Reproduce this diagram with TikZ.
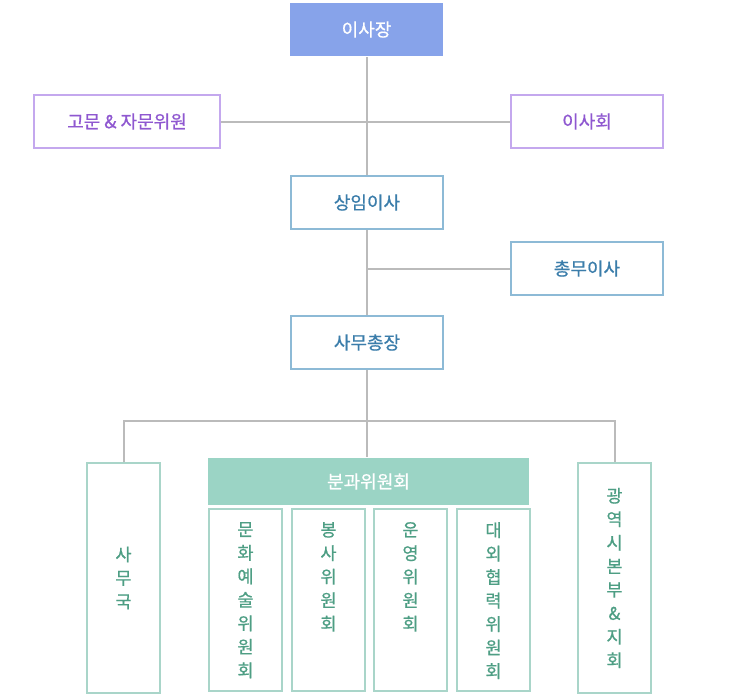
\documentclass[tikz,border=0pt]{standalone}
\usepackage{fontspec}
\setmainfont{Noto Sans CJK KR}
\newfontfamily\orgfont{Noto Sans CJK KR}[FakeBold=0.7]
\usetikzlibrary{calc}

\definecolor{topfill}{HTML}{87A3EA}
\definecolor{violetline}{HTML}{C4A8EE}
\definecolor{violettext}{HTML}{8F58D0}
\definecolor{blueline}{HTML}{8DBAD6}
\definecolor{bluetext}{HTML}{3B7DAA}
\definecolor{mintline}{HTML}{A9D5C9}
\definecolor{minttext}{HTML}{4E9E84}
\definecolor{mintfill}{HTML}{9BD4C5}
\definecolor{linkgray}{HTML}{BBBBBB}

\tikzset{
  orgbox/.style={draw, line width=2pt, inner sep=0pt, font=\orgfont\fontsize{18}{20}\selectfont},
  headbox/.style={orgbox, draw=none, fill=topfill, text=white, minimum width=153pt, minimum height=53pt},
  adbox/.style={orgbox, draw=violetline, text=violettext, minimum height=53pt},
  execbox/.style={orgbox, draw=blueline, text=bluetext, minimum width=152pt, minimum height=53pt},
  tallbox/.style={orgbox, draw=mintline, minimum width=73pt, minimum height=230pt},
  subbox/.style={orgbox, draw=mintline, minimum width=73pt, minimum height=182pt},
  vtext/.style={inner sep=0pt, align=center, text=minttext, font=\orgfont\fontsize{17.5}{23.5}\selectfont},
  link/.style={draw=linkgray, line width=2pt}
}

\begin{document}
\begin{tikzpicture}[x=1pt, y=-1pt]
	\useasboundingbox (0,0) rectangle (740,696);
	% 상위 조직
	\node[headbox] (chair) at (366.5,29.5) {이사장};
	\node[adbox, minimum width=186pt] (advisor) at (127,121.5) {고문 \& 자문위원};
	\node[adbox, minimum width=152pt] (board) at (587,121.5) {이사회};
	\node[execbox] (exec) at (367,202.5) {상임이사};
	\node[execbox] (general) at (587,268.5) {총무이사};
	\node[execbox] (secgen) at (367,342.5) {사무총장};
	% 하위 조직
	\node[tallbox] (office) at (123.5,578) {};
	\node[vtext] (officet) at (office.center) {사\\무\\국};
	\node[orgbox, draw=none, fill=mintfill, text=white, minimum width=321pt, minimum height=47pt] (committee) at (368.5,481.5) {분과위원회};
	\node[subbox] (culture) at (245.5,600) {};
	\node[subbox] (service) at (328.5,600) {};
	\node[subbox] (operate) at (410.5,600) {};
	\node[subbox] (foreign) at (493.5,600) {};
	\node[vtext, anchor=north] (culturet) at ($(culture.north)+(0,14)$) {문\\화\\예\\술\\위\\원\\회};
	\node[vtext, anchor=north] (servicet) at ($(service.north)+(0,14)$) {봉\\사\\위\\원\\회};
	\node[vtext, anchor=north] (operatet) at ($(operate.north)+(0,14)$) {운\\영\\위\\원\\회};
	\node[vtext, anchor=north] (foreignt) at ($(foreign.north)+(0,14)$) {대\\외\\협\\력\\위\\원\\회};
	\node[tallbox] (branch) at (614.5,578) {};
	\node[vtext] (brancht) at (branch.center) {광\\역\\시\\본\\부\\\&\\지\\회};
	% 연결선
	\coordinate (hub) at ($(secgen.south)+(0,51)$);
	\draw[link] (chair.south -| exec.north) -- (exec.north);
	\draw[link] (advisor.east) -- (board.west);
	\draw[link] (exec.south) -- (secgen.north);
	\draw[link] (general.west -| exec) -- (general.west);
	\draw[link] (secgen.south) -- (hub);
	\draw[link] (office.north) |- (hub) -| (branch.north);
	\draw[link] (hub) -- (hub |- committee.north);
\end{tikzpicture}
\end{document}
